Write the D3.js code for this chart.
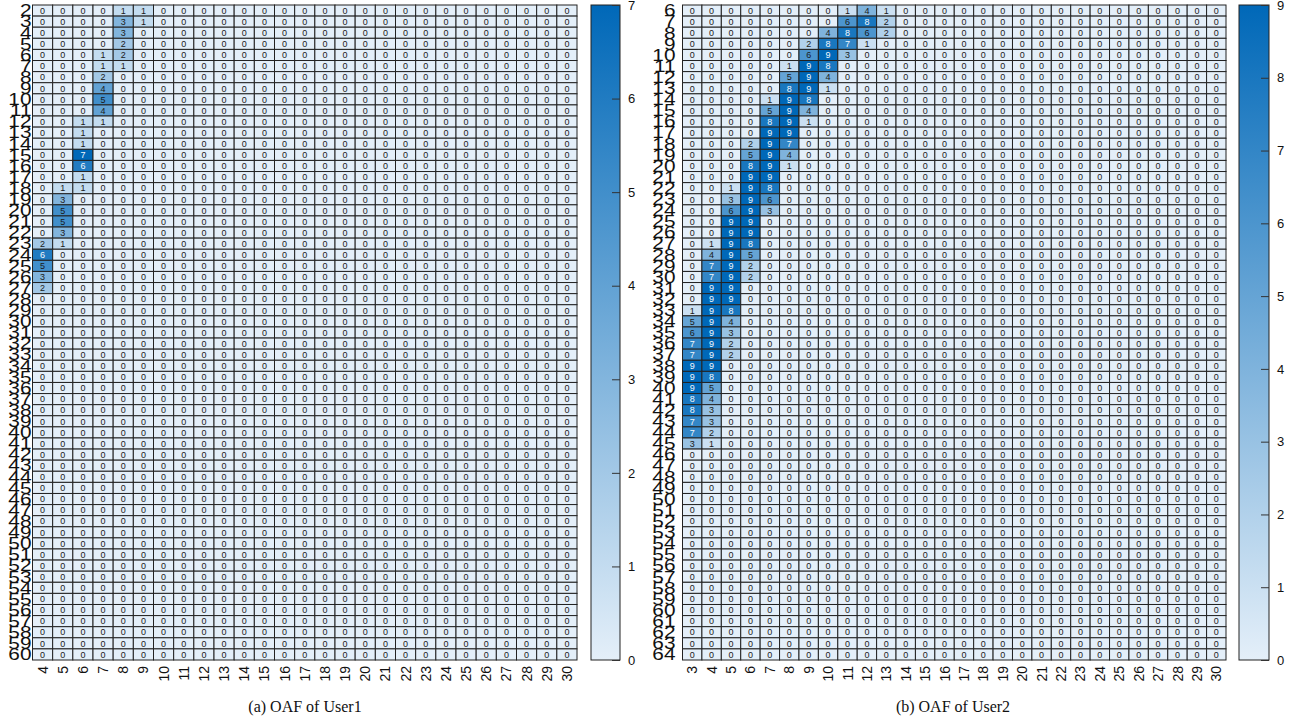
<!DOCTYPE html>
<html>
<head>
<meta charset="utf-8">
<script src="https://d3js.org/d3.v7.min.js"></script>
<style>
  body { margin: 0; background: #fff; }
  svg { display: block; font-family: "Liberation Sans", Arial, sans-serif; }
</style>
</head>
<body>
<div id="chart"></div>
<script>
// tick labels (row = y axis, col = x axis)
const user1Rows = d3.range(2, 61);
const user1Cols = d3.range(4, 31);
const user2Rows = d3.range(6, 65);
const user2Cols = d3.range(3, 31);

// non-zero cells [row, col, value]; every other cell is 0
const user1Cells = [
  [2, 8, 1], [2, 9, 1],
  [3, 8, 3], [3, 9, 1],
  [4, 8, 3], [5, 8, 2],
  [6, 7, 1], [6, 8, 2],
  [7, 7, 1], [7, 8, 1],
  [8, 7, 2], [9, 7, 4], [10, 7, 5], [11, 7, 4],
  [12, 6, 1], [12, 7, 1],
  [13, 6, 1], [14, 6, 1], [15, 6, 7], [16, 6, 6], [17, 6, 1],
  [18, 5, 1], [18, 6, 1],
  [19, 5, 3], [20, 5, 5], [21, 5, 5], [22, 5, 3],
  [23, 4, 2], [23, 5, 1],
  [24, 4, 6], [25, 4, 5], [26, 4, 3], [27, 4, 2]
];

const user2Cells = [
  [6, 11, 1], [6, 12, 4], [6, 13, 1],
  [7, 11, 6], [7, 12, 8], [7, 13, 2],
  [8, 10, 4], [8, 11, 8], [8, 12, 6], [8, 13, 2],
  [9, 9, 2], [9, 10, 8], [9, 11, 7], [9, 12, 1],
  [10, 9, 6], [10, 10, 9], [10, 11, 3],
  [11, 8, 1], [11, 9, 9], [11, 10, 8],
  [12, 8, 5], [12, 9, 9], [12, 10, 4],
  [13, 8, 8], [13, 9, 9], [13, 10, 1],
  [14, 7, 1], [14, 8, 9], [14, 9, 8],
  [15, 7, 5], [15, 8, 9], [15, 9, 4],
  [16, 7, 8], [16, 8, 9], [16, 9, 1],
  [17, 7, 9], [17, 8, 9],
  [18, 6, 2], [18, 7, 9], [18, 8, 7],
  [19, 6, 5], [19, 7, 9], [19, 8, 4],
  [20, 6, 8], [20, 7, 9], [20, 8, 1],
  [21, 6, 9], [21, 7, 9],
  [22, 5, 1], [22, 6, 9], [22, 7, 8],
  [23, 5, 3], [23, 6, 9], [23, 7, 6],
  [24, 5, 6], [24, 6, 9], [24, 7, 3],
  [25, 5, 9], [25, 6, 9],
  [26, 5, 9], [26, 6, 9],
  [27, 4, 1], [27, 5, 9], [27, 6, 8],
  [28, 4, 4], [28, 5, 9], [28, 6, 5],
  [29, 4, 7], [29, 5, 9], [29, 6, 2],
  [30, 4, 7], [30, 5, 9], [30, 6, 2],
  [31, 4, 9], [31, 5, 9],
  [32, 4, 9], [32, 5, 9],
  [33, 3, 1], [33, 4, 9], [33, 5, 8],
  [34, 3, 5], [34, 4, 9], [34, 5, 4],
  [35, 3, 6], [35, 4, 9], [35, 5, 3],
  [36, 3, 7], [36, 4, 9], [36, 5, 2],
  [37, 3, 7], [37, 4, 9], [37, 5, 2],
  [38, 3, 9], [38, 4, 9],
  [39, 3, 9], [39, 4, 8],
  [40, 3, 9], [40, 4, 5],
  [41, 3, 8], [41, 4, 4],
  [42, 3, 8], [42, 4, 3],
  [43, 3, 7], [43, 4, 3],
  [44, 3, 7], [44, 4, 2],
  [45, 3, 3], [45, 4, 1]
];

const width = 1291, height = 722;
const lowColor = "#e4eff9", highColor = "#0068b8";

const svg = d3.select("#chart").append("svg")
    .attr("width", width)
    .attr("height", height);

function drawHeatmap({ rows, cols, cells, vmax, left, right, top, bottom, labelGap, cbLeft, cbWidth, caption, captionX, id }) {
    const x = d3.scaleBand().domain(cols).range([left, right]);
    const y = d3.scaleBand().domain(rows).range([top, bottom]);
    const color = d3.scaleLinear().domain([0, vmax]).range([lowColor, highColor]);

    const lookup = new Map(cells.map(d => [d[0] + "_" + d[1], d[2]]));
    const grid = [];
    rows.forEach(r => cols.forEach(c => grid.push({ r, c, v: lookup.get(r + "_" + c) || 0 })));

    const g = svg.append("g");

    g.selectAll("rect.cell")
        .data(grid)
        .enter()
        .append("rect")
        .attr("class", "cell")
        .attr("x", d => x(d.c))
        .attr("y", d => y(d.r))
        .attr("width", x.bandwidth())
        .attr("height", y.bandwidth())
        .attr("fill", d => color(d.v))
        .attr("stroke", "#222")
        .attr("stroke-width", 1);

    g.selectAll("text.val")
        .data(grid)
        .enter()
        .append("text")
        .attr("class", "val")
        .attr("x", d => x(d.c) + x.bandwidth() / 2)
        .attr("y", d => y(d.r) + y.bandwidth() / 2)
        .attr("dy", "0.36em")
        .attr("text-anchor", "middle")
        .attr("font-size", "9px")
        .attr("fill", d => d.v / vmax > 0.75 ? "#f4f8fc" : "#1a1a1a")
        .text(d => d.v);

    // row labels (tall, slightly stretched like the original)
    const yAxis = g.append("g")
        .attr("transform", `translate(${left},0)`)
        .call(d3.axisLeft(y).tickSize(0).tickPadding(0));
    yAxis.select(".domain").remove();
    yAxis.selectAll("text")
        .attr("x", 0)
        .attr("transform", `translate(${-labelGap},0) scale(1.3,1)`)
        .attr("dy", "0.36em")
        .attr("font-size", "16px")
        .attr("font-family", "Liberation Sans, Arial, sans-serif")
        .attr("fill", "#111");

    // column labels, rotated
    const xAxis = g.append("g")
        .attr("transform", `translate(0,${bottom})`)
        .call(d3.axisBottom(x).tickSize(0));
    xAxis.select(".domain").remove();
    xAxis.selectAll("text")
        .attr("transform", "rotate(-90)")
        .attr("text-anchor", "end")
        .attr("x", -6)
        .attr("y", 0)
        .attr("dy", "0.36em")
        .attr("font-size", "14px")
        .attr("font-family", "Liberation Sans, Arial, sans-serif")
        .attr("fill", "#111");

    // colorbar
    const grad = svg.append("defs").append("linearGradient")
        .attr("id", id)
        .attr("x1", 0).attr("y1", 1).attr("x2", 0).attr("y2", 0);
    grad.append("stop").attr("offset", "0%").attr("stop-color", lowColor);
    grad.append("stop").attr("offset", "100%").attr("stop-color", highColor);

    g.append("rect")
        .attr("x", cbLeft)
        .attr("y", top)
        .attr("width", cbWidth)
        .attr("height", bottom - top)
        .attr("fill", `url(#${id})`)
        .attr("stroke", "#222")
        .attr("stroke-width", 1);

    const cbScale = d3.scaleLinear().domain([0, vmax]).range([bottom, top]);
    const cbAxis = g.append("g")
        .attr("transform", `translate(${cbLeft + cbWidth},0)`)
        .call(d3.axisRight(cbScale).ticks(vmax).tickSize(-8).tickPadding(8));
    cbAxis.select(".domain").remove();
    cbAxis.selectAll("line").attr("stroke", "#333");
    cbAxis.selectAll("text")
        .attr("font-size", "13px")
        .attr("font-family", "Liberation Sans, Arial, sans-serif")
        .attr("fill", "#111");

    svg.append("text")
        .attr("x", captionX)
        .attr("y", 712)
        .attr("text-anchor", "middle")
        .attr("font-family", "Liberation Serif, Times New Roman, serif")
        .attr("font-size", "16px")
        .attr("fill", "#111")
        .text(caption);
}

drawHeatmap({
    rows: user1Rows, cols: user1Cols, cells: user1Cells, vmax: 7,
    left: 32.5, right: 577, top: 5, bottom: 660, labelGap: 1,
    cbLeft: 591, cbWidth: 29,
    caption: "(a) OAF of User1", captionX: 305, id: "cb1"
});

drawHeatmap({
    rows: user2Rows, cols: user2Cols, cells: user2Cells, vmax: 9,
    left: 682.5, right: 1226, top: 5, bottom: 660, labelGap: 7,
    cbLeft: 1239, cbWidth: 30,
    caption: "(b) OAF of User2", captionX: 953, id: "cb2"
});
</script>
</body>
</html>
